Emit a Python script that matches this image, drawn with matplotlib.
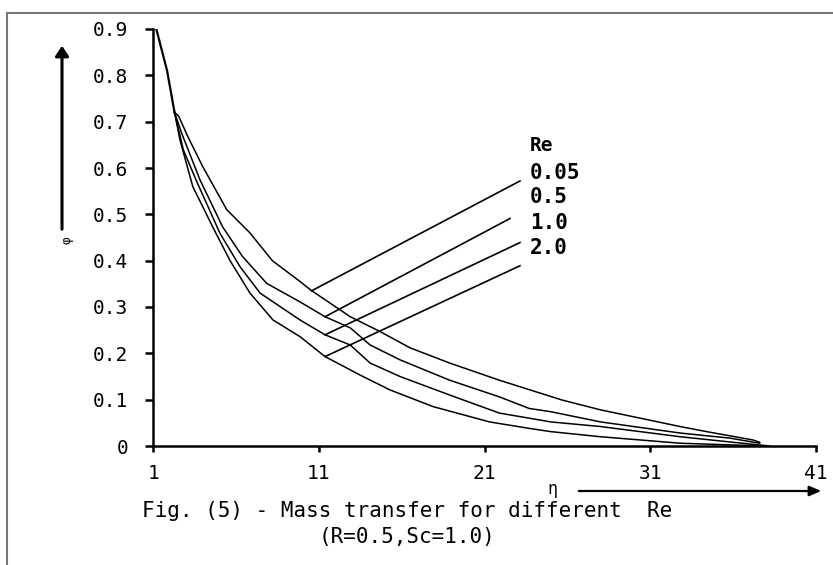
import matplotlib
matplotlib.use("Agg")
import matplotlib.pyplot as plt

# shared start of all curves (they coincide until eta ~ 2.3)
eta_start = [1.0, 1.2, 1.85, 2.3]
phi_start = [0.94, 0.90, 0.81, 0.72]

re_labels = ["0.05", "0.5", "1.0", "2.0"]

eta_re005 = [2.55, 3.1, 4.0, 5.45, 6.85, 8.2, 9.87, 10.5, 12.9, 14.7, 16.5, 18.9, 21.9, 23.75, 25.7, 28.0, 30.4, 32.8, 34.4, 37.2, 37.6]
phi_re005 = [0.712, 0.668, 0.603, 0.51, 0.46, 0.40, 0.355, 0.337, 0.279, 0.247, 0.212, 0.179, 0.142, 0.121, 0.099, 0.078, 0.060, 0.042, 0.031, 0.013, 0.008]

eta_re05 = [2.73, 3.84, 5.2, 6.4, 7.86, 9.87, 11.38, 12.9, 14.1, 15.9, 18.9, 21.9, 23.7, 25.0, 28.0, 32.8, 35.8, 37.6]
phi_re05 = [0.675, 0.574, 0.473, 0.409, 0.351, 0.311, 0.279, 0.255, 0.218, 0.186, 0.142, 0.106, 0.081, 0.074, 0.052, 0.028, 0.017, 0.006]

eta_re1 = [2.83, 3.6, 5.04, 6.25, 7.46, 9.87, 11.38, 12.9, 14.1, 15.9, 18.9, 21.9, 23.7, 25.0, 28.0, 32.8, 36.0, 38.2]
phi_re1 = [0.639, 0.574, 0.459, 0.387, 0.33, 0.272, 0.240, 0.218, 0.179, 0.150, 0.110, 0.071, 0.060, 0.052, 0.042, 0.020, 0.008, 0.0]

eta_re2 = [2.63, 3.4, 4.6, 5.65, 6.85, 8.24, 9.87, 11.38, 13.5, 15.3, 17.9, 21.3, 23.7, 25.0, 28.0, 32.8, 37.9]
phi_re2 = [0.66, 0.56, 0.473, 0.40, 0.33, 0.272, 0.236, 0.193, 0.153, 0.121, 0.085, 0.052, 0.038, 0.031, 0.020, 0.006, 0.0]

# leader lines from curve to label: (eta0, phi0, eta1, phi1)
leaders = [(10.57, 0.335, 23.14, 0.572),
           (11.38, 0.279, 22.54, 0.491),
           (11.38, 0.240, 23.14, 0.439),
           (11.38, 0.193, 23.14, 0.389)]
label_y = [0.589, 0.537, 0.481, 0.427]

x_ticks = [1, 11, 21, 31, 41]
y_ticks = [0, 0.1, 0.2, 0.3, 0.4, 0.5, 0.6, 0.7, 0.8, 0.9]
y_ticklabels = ["0", "0.1", "0.2", "0.3", "0.4", "0.5", "0.6", "0.7", "0.8", "0.9"]

# wide, evenly spaced lettering like the original
plt.rcParams['font.family'] = ['DejaVu Sans Mono', 'DejaVu Sans']

fig = plt.figure(figsize=(8.33, 5.65), dpi=100)
ax = fig.add_axes([153 / 833, 1 - 446 / 565, (816 - 153) / 833, (446 - 29) / 565])

ax.plot(eta_start, phi_start, color='black', lw=1.6)
for e, p in [(eta_re005, phi_re005), (eta_re05, phi_re05), (eta_re1, phi_re1), (eta_re2, phi_re2)]:
    ax.plot([eta_start[-1]] + e, [phi_start[-1]] + p, color='black', lw=1.1)

for (x0, y0, x1, y1) in leaders:
    ax.plot([x0, x1], [y0, y1], color='black', lw=1.2)

ax.text(23.75, 0.6475, "Re", fontsize=14, fontweight='bold', va='center', ha='left')
for lab, yy in zip(re_labels, label_y):
    ax.text(23.75, yy, lab, fontsize=15, fontweight='bold', va='center', ha='left')

ax.set_xlim(1, 41)
ax.set_ylim(0, 0.9)
ax.set_xticks(x_ticks)
ax.set_xticklabels([str(t) for t in x_ticks])
ax.set_yticks(y_ticks)
ax.set_yticklabels(y_ticklabels)
ax.tick_params(axis='y', direction='out', length=6, width=1.8, pad=12, labelsize=14)
ax.tick_params(axis='x', direction='out', length=4, width=1.8, pad=9, labelsize=14)
for s in ['top', 'right']:
    ax.spines[s].set_visible(False)
for s in ['left', 'bottom']:
    ax.spines[s].set_linewidth(1.8)

# frame around the picture
fig.add_artist(plt.Line2D([7 / 833, 1.0], [1 - 13 / 565, 1 - 13 / 565], transform=fig.transFigure, color='#777777', lw=1.5))
fig.add_artist(plt.Line2D([7 / 833, 7 / 833], [0.0, 1 - 13 / 565], transform=fig.transFigure, color='#777777', lw=1.5))

# y-axis arrow and label
fig.add_artist(matplotlib.patches.FancyArrowPatch((62 / 833, 1 - 232 / 565), (62 / 833, 1 - 43 / 565),
               transform=fig.transFigure, arrowstyle='-|>,head_length=6,head_width=4', color='black', lw=2.2))
fig.text(67 / 833, 1 - 240 / 565, "φ", fontsize=9, rotation=90, ha='center', va='center')

# x-axis arrow and label
fig.add_artist(matplotlib.patches.FancyArrowPatch((576 / 833, 1 - 491 / 565), (824 / 833, 1 - 491 / 565),
               transform=fig.transFigure, arrowstyle='-|>,head_length=7,head_width=3', color='black', lw=1.6))
fig.text(552 / 833, 1 - 489 / 565, "η", fontsize=12, ha='center', va='center')

fig.text(407 / 833, 1 - 511 / 565, "Fig. (5) - Mass transfer for different  Re", fontsize=15, ha='center', va='center')
fig.text(407 / 833, 1 - 537 / 565, "(R=0.5,Sc=1.0)", fontsize=15, ha='center', va='center')

fig.savefig("out.png", dpi=100)
